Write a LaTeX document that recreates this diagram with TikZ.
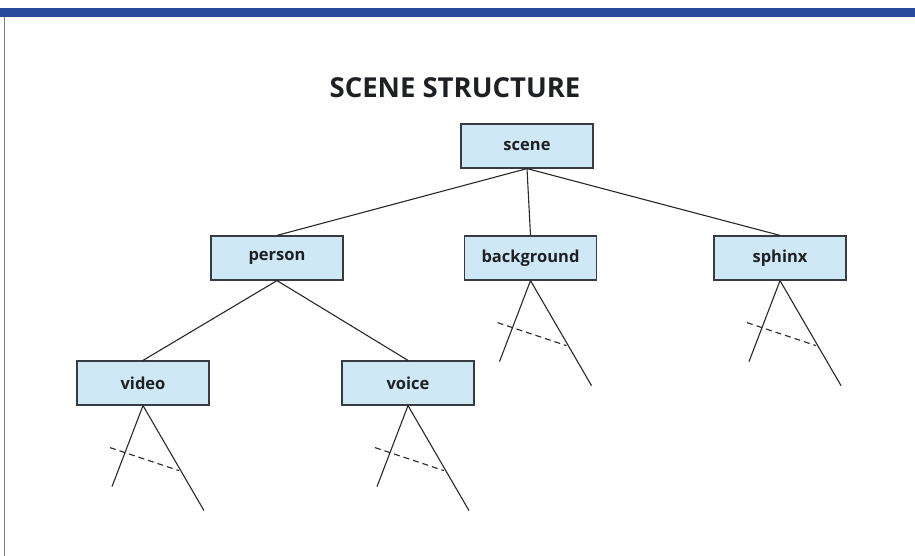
\documentclass[tikz,border=0pt]{standalone}
\usepackage{fontspec}
\setmainfont{Open Sans}
\usetikzlibrary{calc}
\definecolor{barblue}{RGB}{38,74,156}
\definecolor{boxfill}{RGB}{206,232,246}
\definecolor{boxline}{RGB}{55,60,66}
\definecolor{linegray}{RGB}{40,40,40}
\definecolor{txt}{RGB}{30,32,36}
\begin{document}
\begin{tikzpicture}[x=1pt,y=-1pt,
  box/.style={draw=boxline,line width=1.2pt,fill=boxfill,minimum width=132pt,minimum height=44pt,inner sep=0pt,font=\fontsize{16.5}{19}\selectfont\bfseries,text=txt},
  link/.style={draw=linegray,line width=1.1pt},
  hidden/.style={draw=linegray,line width=1.1pt,dash pattern=on 6pt off 4pt}]
\useasboundingbox (0,0) rectangle (915,556);
\fill[barblue] (0,8) rectangle (915,17);
\draw[gray,line width=1pt] (4,17) -- (4,556);
\node[font=\fontsize{27.5}{32}\selectfont\bfseries,text=txt] (title) at (455,88) {SCENE STRUCTURE};
\node[box] (scene) at (527,146) {scene};
\node[box] (person) at (277,258) {person};
\node[box] (background) at (530.5,258) {background};
\node[box] (sphinx) at (780,258) {sphinx};
\node[box] (video) at (143,383) {video};
\node[box] (voice) at (408,383) {voice};
\draw[link] (scene.south) -- (person.north);
\draw[link] (scene.south) -- (background.north);
\draw[link] (scene.south) -- (sphinx.north);
\draw[link] (person.south) -- (video.north);
\draw[link] (person.south) -- (voice.north);
\foreach \n in {background,sphinx,video,voice}{
  \coordinate (\n-l) at ($(\n.south)+(-31,81)$);
  \coordinate (\n-r) at ($(\n.south)+(61,105)$);
  \coordinate (\n-d1) at ($(\n.south)+(-33,42)$);
  \coordinate (\n-d2) at ($(\n.south)+(36,65)$);
  \draw[link] (\n-l) -- (\n.south) -- (\n-r);
  \draw[hidden] (\n-d1) -- (\n-d2);
}
\end{tikzpicture}
\end{document}
